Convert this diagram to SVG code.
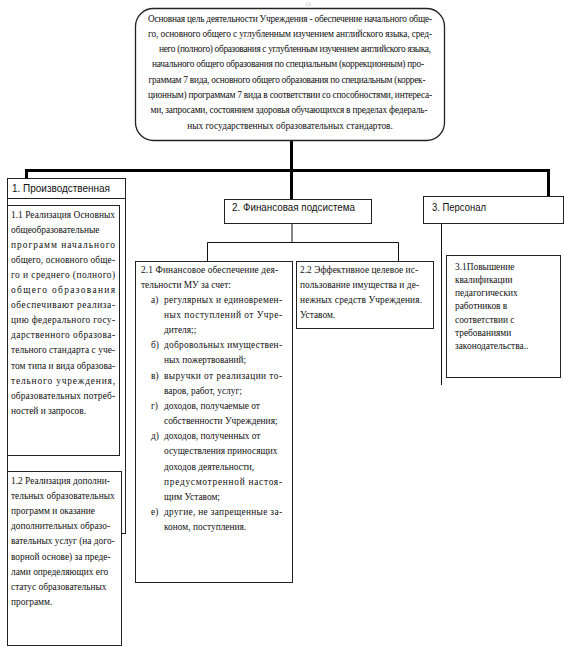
<svg xmlns="http://www.w3.org/2000/svg" width="564" height="653" viewBox="0 0 564 653">
<style>
.box{fill:#fff;stroke:#222;stroke-width:1}
.thick{fill:none;stroke:#000;stroke-width:3}
.thin{fill:none;stroke:#111;stroke-width:1}
.s{font-family:"Liberation Serif","Times New Roman",serif;font-size:9.4px;fill:#111}
.h{font-family:"Liberation Sans",Arial,sans-serif;font-size:10.5px;fill:#111}
.m{text-anchor:middle}
</style>
<rect width="564" height="653" fill="#fff"/>
<text x="305" y="6" style="font-family:'Liberation Serif',serif;font-size:6px;fill:#bbb">12</text>

<g id="connectors">
<path class="thick" d="M291.5 141 V170.5 M26.5 178 V170.5 H548.5 V196 M291.5 170.5 V199"/>
<path class="thin" d="M292 223 V242.5 M207.5 261 V242.5 H398.5 V261"/>
<path class="thin" d="M441.5 223 V385"/>
</g>

<g id="goal">
<rect x="135.5" y="8.5" width="309" height="132" rx="18" ry="18" fill="#fff" stroke="#222" stroke-width="1.3"/>
<text class="s m" x="290" y="21.5" textLength="284" lengthAdjust="spacing">Основная цель деятельности Учреждения - обеспечение начального обще-</text>
<text class="s m" x="290" y="36.8" textLength="284" lengthAdjust="spacing">го, основного общего с углубленным изучением  английского языка, сред-</text>
<text class="s m" x="295" y="52.1" textLength="272" lengthAdjust="spacing">него (полного) образования  с углубленным изучением  английского языка,</text>
<text class="s m" x="288" y="67.4" textLength="272" lengthAdjust="spacing">начального общего образования по специальным (коррекционным) про-</text>
<text class="s m" x="287" y="82.7" textLength="277" lengthAdjust="spacing">граммам 7 вида, основного общего образования по специальным (коррек-</text>
<text class="s m" x="290" y="98" textLength="284" lengthAdjust="spacing">ционным) программам 7 вида в соответствии со способностями, интереса-</text>
<text class="s m" x="289" y="113.3" textLength="277" lengthAdjust="spacing">ми, запросами, состоянием здоровья обучающихся в пределах  федераль-</text>
<text class="s m" x="290" y="128.6">ных государственных образовательных стандартов.</text>
</g>

<g id="prod">
<rect class="box" x="7.5" y="198.5" width="118" height="335"/>
<rect class="box" x="7.5" y="178.5" width="118" height="20"/>
<text class="h" x="12" y="192" textLength="98" lengthAdjust="spacingAndGlyphs">1. Производственная</text>
</g>

<g id="prod-1-1">
<rect class="box" x="7.5" y="205.5" width="112" height="250"/>
<text class="s" x="11" y="217.5" textLength="104" lengthAdjust="spacing">1.1 Реализация Основных</text>
<text class="s" x="11" y="232.6">общеобразовательные</text>
<text class="s" x="11" y="247.7" textLength="104" lengthAdjust="spacing">программ        начального</text>
<text class="s" x="11" y="262.8" textLength="104" lengthAdjust="spacing">общего, основного обще-</text>
<text class="s" x="11" y="277.9" textLength="104" lengthAdjust="spacing">го и   среднего (полного)</text>
<text class="s" x="11" y="293" textLength="104" lengthAdjust="spacing">общего          образования</text>
<text class="s" x="11" y="308.1" textLength="104" lengthAdjust="spacing">обеспечивают      реализа-</text>
<text class="s" x="11" y="323.2" textLength="104" lengthAdjust="spacing">цию федерального госу-</text>
<text class="s" x="11" y="338.3" textLength="104" lengthAdjust="spacing">дарственного    образова-</text>
<text class="s" x="11" y="353.4" textLength="104" lengthAdjust="spacing">тельного стандарта с уче-</text>
<text class="s" x="11" y="368.5" textLength="104" lengthAdjust="spacing">том типа и вида образова-</text>
<text class="s" x="11" y="383.6" textLength="104" lengthAdjust="spacing">тельного          учреждения,</text>
<text class="s" x="11" y="398.7" textLength="104" lengthAdjust="spacing">образовательных  потреб-</text>
<text class="s" x="11" y="413.8">ностей и запросов.</text>
</g>

<g id="prod-1-2">
<rect class="box" x="7.5" y="471.5" width="114" height="174"/>
<text class="s" x="11" y="483.5">1.2  Реализация дополни-</text>
<text class="s" x="11" y="498.7">тельных образовательных</text>
<text class="s" x="11" y="513.9">программ  и оказание</text>
<text class="s" x="11" y="529.1">дополнительных образо-</text>
<text class="s" x="11" y="544.3">вательных услуг (на дого-</text>
<text class="s" x="11" y="559.5">ворной основе) за преде-</text>
<text class="s" x="11" y="574.7">лами определяющих его</text>
<text class="s" x="11" y="589.9">статус образовательных</text>
<text class="s" x="11" y="605.1">программ.</text>
</g>

<g id="fin">
<rect class="box" x="224.5" y="199.5" width="147" height="24"/>
<text class="h" x="232" y="211" textLength="123" lengthAdjust="spacingAndGlyphs">2. Финансовая подсистема</text>
</g>

<g id="fin-2-1">
<rect class="box" x="135.5" y="261.5" width="157" height="321"/>
<text class="s" x="141" y="272.5" textLength="137" lengthAdjust="spacing">2.1 Финансовое обеспечение  дея-</text>
<text class="s" x="141" y="287.7">тельности МУ за счет:</text>
<text class="s" x="151" y="302.8">а)</text>
<text class="s" x="164" y="302.8" textLength="118" lengthAdjust="spacing">регулярных и единовремен-</text>
<text class="s" x="164" y="318" textLength="118" lengthAdjust="spacing">ных поступлений от Учре-</text>
<text class="s" x="164" y="333.1">дителя;;</text>
<text class="s" x="151" y="348.3">б)</text>
<text class="s" x="164" y="348.3" textLength="118" lengthAdjust="spacing">добровольных имуществен-</text>
<text class="s" x="164" y="363.4">ных   пожертвований;</text>
<text class="s" x="151" y="378.6">в)</text>
<text class="s" x="164" y="378.6" textLength="118" lengthAdjust="spacing">выручки от реализации то-</text>
<text class="s" x="164" y="393.7">варов, работ, услуг;</text>
<text class="s" x="151" y="408.9">г)</text>
<text class="s" x="164" y="408.9">доходов, получаемые от</text>
<text class="s" x="164" y="424">собственности Учреждения;</text>
<text class="s" x="151" y="439.2">д)</text>
<text class="s" x="164" y="439.2">доходов, полученных от</text>
<text class="s" x="164" y="454.3">осуществления приносящих</text>
<text class="s" x="164" y="469.5">доходов деятельности,</text>
<text class="s" x="164" y="484.6" textLength="118" lengthAdjust="spacing">предусмотренной настоя-</text>
<text class="s" x="164" y="499.8">щим Уставом;</text>
<text class="s" x="151" y="514.9">е)</text>
<text class="s" x="164" y="514.9" textLength="118" lengthAdjust="spacing">другие, не запрещенные за-</text>
<text class="s" x="164" y="530.1">коном, поступления.</text>
</g>

<g id="fin-2-2">
<rect class="box" x="296.5" y="261.5" width="137" height="67"/>
<text class="s" x="300" y="272.5" textLength="118" lengthAdjust="spacing">2.2 Эффективное целевое  ис-</text>
<text class="s" x="300" y="287.7" textLength="119" lengthAdjust="spacing">пользование имущества и де-</text>
<text class="s" x="300" y="302.8" textLength="122" lengthAdjust="spacing">нежных средств Учреждения.</text>
<text class="s" x="300" y="318">Уставом.</text>
</g>

<g id="staff">
<rect class="box" x="423.5" y="196.5" width="140" height="27"/>
<text class="h" x="432" y="211" textLength="54" lengthAdjust="spacingAndGlyphs">3. Персонал</text>
</g>

<g id="staff-3-1">
<rect class="box" x="446.5" y="255.5" width="114" height="122"/>
<text class="s" x="455" y="269.5">3.1Повышение</text>
<text class="s" x="455" y="282.8">квалификации</text>
<text class="s" x="455" y="296.1">педагогических</text>
<text class="s" x="455" y="309.4">работников в</text>
<text class="s" x="455" y="322.7">соответствии с</text>
<text class="s" x="455" y="336">требованиями</text>
<text class="s" x="455" y="349.3">законодательства..</text>
</g>
</svg>
